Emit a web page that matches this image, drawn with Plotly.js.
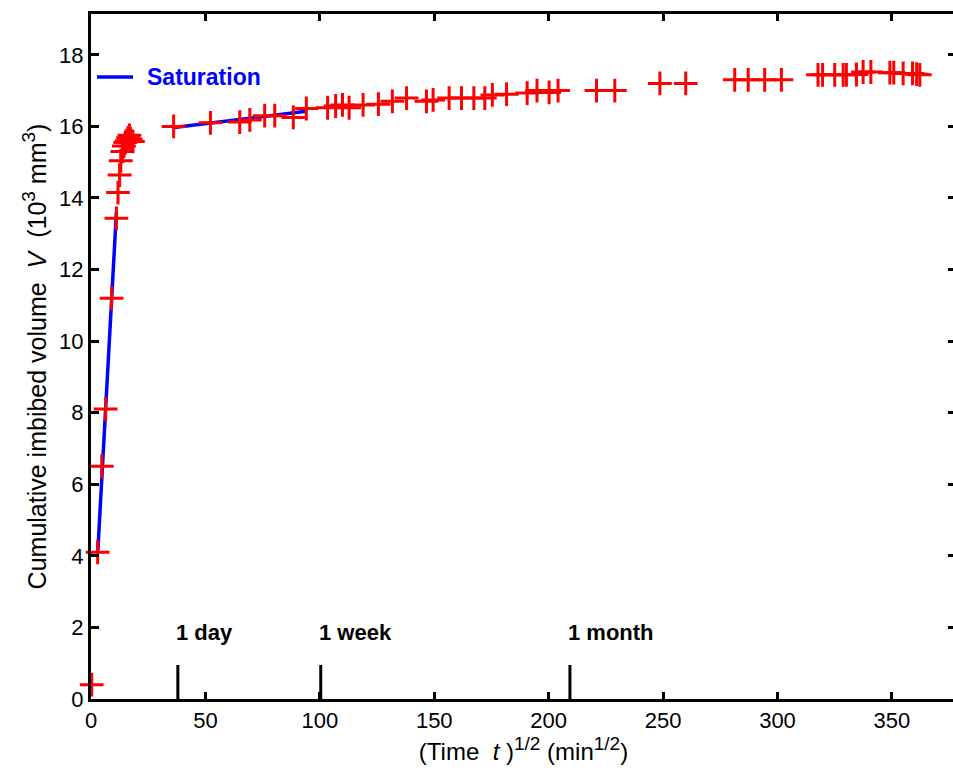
<!DOCTYPE html>
<html>
<head>
<meta charset="utf-8">
<script src="https://cdn.plot.ly/plotly-3.0.1.min.js"></script>
<style>html,body{margin:0;padding:0;overflow:hidden;background:#fff;}</style>
</head>
<body>
<div id="chart"></div>
<script>
// Measured data: sqrt(time) in min^1/2 and cumulative imbibed volume in 10^3 mm^3
var sqrtTime = [0.3, 2.9, 4.7, 6.4, 9.0, 11.1, 11.8, 12.5, 13.0, 13.7, 14.4, 15.0, 15.6, 16.2, 16.8, 17.3, 18.3,
  36.1, 52.2, 65.0, 69.4, 75.9, 80.3, 88.4, 94.1, 103.4, 106.9, 109.9, 112.8, 118.9, 125.6, 131.7, 137.9,
  146.6, 149.5, 156.5, 161.9, 167.3, 172.1, 175.4, 181.6, 190.6, 194.9, 200.2, 204.1, 220.9, 228.9,
  248.6, 259.9, 281.3, 287.2, 294.4, 301.7, 317.7, 319.7, 325.0, 328.7, 330.1, 334.5, 337.4, 340.8,
  349.1, 350.8, 354.9, 359.0, 360.8, 362.2];
var volume = [0.40, 4.10, 6.50, 8.10, 11.20, 13.43, 14.15, 14.64, 15.04, 15.30, 15.45, 15.55, 15.60, 15.68, 15.75, 15.65, 15.58,
  16.00, 16.10, 16.12, 16.18, 16.30, 16.30, 16.25, 16.50, 16.52, 16.57, 16.60, 16.52, 16.60, 16.62, 16.70, 16.79,
  16.70, 16.74, 16.79, 16.79, 16.79, 16.79, 16.88, 16.90, 16.93, 17.00, 16.95, 17.00, 17.00, 17.00,
  17.20, 17.20, 17.30, 17.30, 17.30, 17.30, 17.44, 17.44, 17.44, 17.44, 17.44, 17.45, 17.52, 17.52,
  17.50, 17.50, 17.48, 17.48, 17.46, 17.44];

// Saturation fit segments
var satX = [3.0, 11.1, null, 36.2, 94.0];
var satY = [4.15, 13.6, null, 15.97, 16.42];

// Time reference marks
var markLabels = ["1 day", "1 week", "1 month"];
var markX = [Math.sqrt(1440), Math.sqrt(10080), Math.sqrt(43800)];
var markTop = 0.95;
var labelY = 1.87;

var yTicks = [0, 2, 4, 6, 8, 10, 12, 14, 16, 18];
var xTicks = [0, 50, 100, 150, 200, 250, 300, 350];

var mx = [], my = [];
markX.forEach(function (v) { mx.push(v, v, null); my.push(0, markTop, null); });

var fontFam = 'Liberation Sans, Arial, sans-serif';

var traces = [
  {x: mx, y: my, mode: 'lines', line: {color: '#000', width: 3}, showlegend: false, hoverinfo: 'skip'},
  {x: satX, y: satY, mode: 'lines', name: 'Saturation', line: {color: '#0000ff', width: 3.5}, showlegend: false},
  {x: sqrtTime, y: volume, mode: 'markers', name: 'data',
   marker: {symbol: 'cross-thin-open', size: 17, color: '#ff0000', line: {color: '#ff0000', width: 3}},
   showlegend: false, cliponaxis: false}
];

var W = 958, H = 779, ML = 91, MR = 2, MT = 14, MB = 80;
var pw = W - ML - MR, ph = H - MT - MB;

var annotations = markLabels.map(function (t, i) {
  return {x: markX[i], y: labelY, xref: 'x', yref: 'y', text: '<b>' + t + '</b>', showarrow: false,
    xanchor: 'left', yanchor: 'middle', xshift: -4,
    font: {family: fontFam, size: 22, color: '#000'}};
});
annotations.push({x: (145 - ML) / pw, y: (H - MB - 77) / ph, xref: 'paper', yref: 'paper',
  text: '<b>Saturation</b>', showarrow: false, xanchor: 'left', yanchor: 'middle',
  font: {family: fontFam, size: 23, color: '#0000ff'}});

var sup = function (s) { return '<sup><span style="font-size:19px">' + s + '</span></sup>'; };

var layout = {
  width: W, height: H,
  margin: {l: ML, r: MR, t: MT, b: MB, pad: 0},
  paper_bgcolor: '#fff', plot_bgcolor: '#fff',
  font: {family: fontFam, size: 22, color: '#000'},
  showlegend: false,
  xaxis: {
    range: [0, 378], tickvals: xTicks, ticktext: xTicks.map(String),
    ticks: 'inside', ticklen: 7, tickwidth: 3, tickcolor: '#000',
    showline: true, linecolor: '#000', linewidth: 3, mirror: 'ticks',
    showgrid: false, zeroline: false,
    tickfont: {size: 22},
    title: {text: '(Time  <i>t</i> )' + sup('1/2') + ' (min' + sup('1/2') + ')', font: {size: 24}, standoff: 2}
  },
  yaxis: {
    range: [0, 19.14], tickvals: yTicks, ticktext: yTicks.map(String),
    ticks: 'inside', ticklen: 8, tickwidth: 3, tickcolor: '#000',
    showline: true, linecolor: '#000', linewidth: 3, mirror: 'ticks',
    showgrid: false, zeroline: false,
    tickfont: {size: 22},
    title: {text: 'Cumulative imbibed volume  <i>V</i>  (10' + sup('3') + ' mm' + sup('3') + ')', font: {size: 25}, standoff: 6}
  },
  annotations: annotations,
  shapes: [{type: 'line', xref: 'paper', yref: 'paper',
    x0: (97 - ML) / pw, x1: (133 - ML) / pw, y0: (H - MB - 77) / ph, y1: (H - MB - 77) / ph,
    line: {color: '#0000ff', width: 3.5}}]
};

Plotly.newPlot('chart', traces, layout, {displayModeBar: false, staticPlot: true});
</script>
</body>
</html>
